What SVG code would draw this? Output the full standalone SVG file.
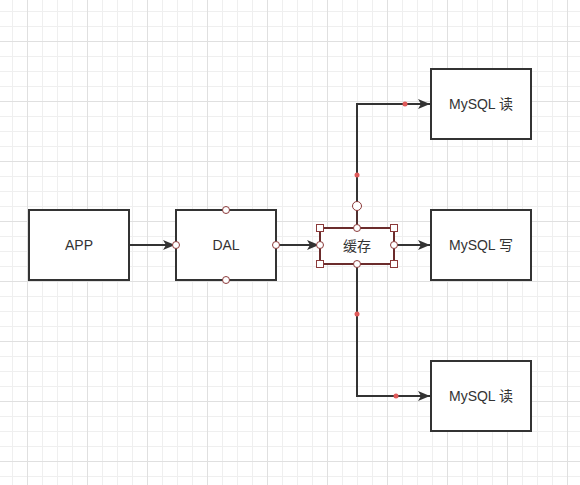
<svg xmlns="http://www.w3.org/2000/svg" width="580" height="485" viewBox="0 0 580 485">
<defs>
<pattern id="minor" x="12" y="11" width="15" height="15" patternUnits="userSpaceOnUse">
<path d="M0.5 0V15M0 0.5H15" stroke="#efefef" stroke-width="1" fill="none"/>
</pattern>
<pattern id="major" x="27" y="41" width="60" height="60" patternUnits="userSpaceOnUse">
<path d="M0.5 0V60M0 0.5H60" stroke="#e0e0e0" stroke-width="1" fill="none"/>
</pattern>
<marker id="arr" markerWidth="12" markerHeight="10" refX="12" refY="5" orient="auto" markerUnits="userSpaceOnUse">
<path d="M0 0L12 5L0 10L3 5Z" fill="#333"/>
</marker>
</defs>
<style>
.box{fill:#fff;stroke:#333;stroke-width:2}
.lbl{font-family:"Liberation Sans","Noto Sans CJK SC",sans-serif;font-size:14px;fill:#333;text-anchor:middle;dominant-baseline:central}
.ln{fill:none;stroke:#333;stroke-width:2}
.pt{fill:#fff;stroke:#8b3a3a;stroke-width:1}
.red{fill:#e05a5a}
</style>
<rect width="580" height="485" fill="#fff"/>
<rect width="580" height="485" fill="url(#minor)"/>
<rect width="580" height="485" fill="url(#major)"/>
<g id="connectors">
<path class="ln" d="M129 245H175" marker-end="url(#arr)"/>
<path class="ln" d="M276 245H319" marker-end="url(#arr)"/>
<path class="ln" d="M394 245H430" marker-end="url(#arr)"/>
<path class="ln" d="M357 228V104H430" marker-end="url(#arr)"/>
<path class="ln" d="M357 264V396H430" marker-end="url(#arr)"/>
<circle class="red" cx="357" cy="175" r="2.5"/>
<circle class="red" cx="405" cy="104" r="2.5"/>
<circle class="red" cx="357" cy="314" r="2.5"/>
<circle class="red" cx="396" cy="396" r="2.5"/>
</g>
<g id="app">
<rect class="box" x="29" y="210" width="100" height="70"/>
<text class="lbl" x="79" y="245">APP</text>
</g>
<g id="dal">
<rect class="box" x="176" y="210" width="100" height="70"/>
<text class="lbl" x="226" y="245">DAL</text>
<circle class="pt" cx="226" cy="210" r="3.5"/>
<circle class="pt" cx="226" cy="280" r="3.5"/>
<circle class="pt" cx="176" cy="245" r="3.5"/>
<circle class="pt" cx="276" cy="245" r="3.5"/>
</g>
<g id="cache">
<rect x="320" y="228" width="74" height="36" fill="#fff" stroke="#6b2c2c" stroke-width="2"/>
<text class="lbl" x="357" y="246">缓存</text>
<line x1="357" y1="210" x2="357" y2="228" stroke="#6b2c2c" stroke-width="1"/>
<circle class="pt" cx="357" cy="206" r="4.5"/>
<circle class="pt" cx="357" cy="228" r="3.5"/>
<circle class="pt" cx="357" cy="264" r="3.5"/>
<circle class="pt" cx="320" cy="245" r="3.5"/>
<circle class="pt" cx="394" cy="245" r="3.5"/>
<rect class="pt" x="316.5" y="224.5" width="7" height="7"/>
<rect class="pt" x="390.5" y="224.5" width="7" height="7"/>
<rect class="pt" x="316.5" y="260.5" width="7" height="7"/>
<rect class="pt" x="390.5" y="260.5" width="7" height="7"/>
</g>
<g id="mysql-read-top">
<rect class="box" x="431" y="69" width="100" height="70"/>
<text class="lbl" x="481" y="104">MySQL 读</text>
</g>
<g id="mysql-write">
<rect class="box" x="431" y="210" width="100" height="70"/>
<text class="lbl" x="481" y="245">MySQL 写</text>
</g>
<g id="mysql-read-bottom">
<rect class="box" x="431" y="361" width="100" height="70"/>
<text class="lbl" x="481" y="396">MySQL 读</text>
</g>
</svg>
